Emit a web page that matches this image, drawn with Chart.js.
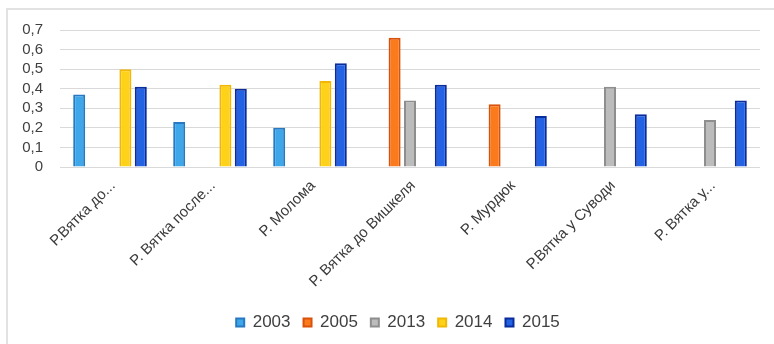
<!DOCTYPE html>
<html>
<head>
<meta charset="utf-8">
<script src="https://cdn.jsdelivr.net/npm/chart.js@4/dist/chart.umd.min.js"></script>
<style>
  html, body { margin: 0; padding: 0; background: #fff; }
  #wrap { position: relative; width: 774px; height: 344px; }
  #frame {
    position: absolute; left: 6px; top: 8px; right: 0; bottom: 0;
    border-left: 2px solid #e2e2e2; border-top: 2px solid #e2e2e2;
  }
  #myChart { position: absolute; left: 0; top: 0; }
</style>
</head>
<body>
<div id="wrap">
  <div id="frame"></div>
  <canvas id="myChart" width="774" height="344"></canvas>
</div>
<script>
const labels = [
  "Р.Вятка до...",
  "Р. Вятка после...",
  "Р. Молома",
  "Р. Вятка до Вишкеля",
  "Р. Мурдюк",
  "Р.Вятка у Суводи",
  "Р. Вятка у...",
];

const v2003 = [0.37, 0.23, 0.2, null, null, null, null];
const v2005 = [null, null, null, 0.66, 0.32, null, null];
const v2013 = [null, null, null, 0.34, null, 0.41, 0.24];
const v2014 = [0.5, 0.42, 0.44, null, null, null, null];
const v2015 = [0.41, 0.4, 0.53, 0.42, 0.26, 0.27, 0.34];

const yTicks = [0, 0.1, 0.2, 0.3, 0.4, 0.5, 0.6, 0.7];

const font = "'Liberation Sans', 'DejaVu Sans', sans-serif";

function series(label, values, fill, edge) {
  return {
    label: label,
    data: values,
    backgroundColor: fill,
    borderColor: edge,
    borderWidth: 2,
    categoryPercentage: 0.77,
    barPercentage: 0.78,
  };
}

// legend sits a little right of the plot centre
const legendShift = {
  id: "legendShift",
  afterLayout(chart) {
    chart.legend.left += 36;
  },
};

const data = {
  labels: labels,
  datasets: [
    series("2003", v2003, "#3da7ea", "#2679c2"),
    series("2005", v2005, "#fb7a1c", "#d9520b"),
    series("2013", v2013, "#bcbcbc", "#8e8e8e"),
    series("2014", v2014, "#ffd21a", "#f2b705"),
    series("2015", v2015, "#2362e3", "#0b2c9c"),
  ],
};

const config = {
  type: "bar",
  data: data,
  plugins: [legendShift],
  options: {
    responsive: false,
    animation: false,
    layout: { padding: { top: 30, right: 14, left: 0, bottom: 3 } },
    plugins: {
      tooltip: { enabled: false },
      legend: {
        position: "bottom",
        labels: {
          color: "#404040",
          font: { family: font, size: 17 },
          boxWidth: 8,
          boxHeight: 8,
          padding: 13,
        },
      },
    },
    scales: {
      x: {
        grid: { display: false },
        border: { display: false },
        ticks: {
          color: "#3a3a3a",
          font: { family: font, size: 15 },
          minRotation: 45,
          maxRotation: 45,
          autoSkip: false,
          padding: 2,
          labelOffset: 3,
        },
        afterFit: (s) => { s.height = 134; },
      },
      y: {
        min: 0,
        max: 0.7,
        afterBuildTicks: (s) => { s.ticks = yTicks.map((v) => ({ value: v })); },
        grid: { color: "#d9d9d9", lineWidth: 1, drawTicks: false },
        border: { display: false },
        ticks: {
          color: "#404040",
          font: { family: font, size: 15 },
          padding: 17,
          autoSkip: false,
          callback: (v) => String(Math.round(v * 10) / 10).replace(".", ","),
        },
        afterFit: (s) => { s.width = 60; },
      },
    },
  },
};

const myChart = new Chart(
  document.getElementById("myChart").getContext("2d"),
  config
);
</script>
</body>
</html>
